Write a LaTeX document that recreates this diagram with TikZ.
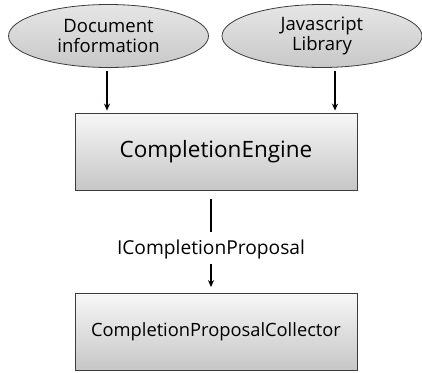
\documentclass[tikz,border=0pt]{standalone}
\usepackage{fontspec}
\setmainfont{Open Sans}
\usetikzlibrary{shapes.geometric, arrows.meta}

\definecolor{edgegray}{HTML}{3C3C3C}
\definecolor{boxtop}{HTML}{F7F7F7}
\definecolor{boxbottom}{HTML}{C6C6C6}
\definecolor{ovaltop}{HTML}{E6E6E6}
\definecolor{ovalbottom}{HTML}{C8C8C8}

\tikzset{
  source/.style={ellipse, draw=edgegray, line width=0.8pt,
    top color=ovaltop, bottom color=ovalbottom,
    minimum width=200pt, minimum height=63pt, inner sep=0pt,
    align=center, font=\fontsize{18.5}{20}\selectfont},
  component/.style={rectangle, draw=edgegray, line width=0.8pt,
    top color=boxtop, bottom color=boxbottom,
    minimum width=282pt, minimum height=77pt, inner sep=0pt,
    font=\fontsize{22.5}{24}\selectfont},
  flow/.style={line width=1.5pt, -{Stealth[length=7pt,width=6pt]}}
}

\begin{document}
\begin{tikzpicture}[x=1pt, y=-1pt]
  \useasboundingbox (0,0) rectangle (422,372);

  % Inputs
  \node[source] (docinfo) at (108.5,36) {Document\\information};
  \node[source] (jslib) at (322,36) {Javascript\\Library};

  % Engine and collector
  \node[component] (engine) at (216,151.5) {CompletionEngine};
  \node[component, font=\fontsize{18.3}{20}\selectfont] (collector) at (216,332) {CompletionProposalCollector};

  % Proposal label between them
  \node[font=\fontsize{19.2}{22}\selectfont, inner sep=2pt] (proposal) at (211,250) {ICompletionProposal};

  % Arrows into the engine
  \coordinate (docout) at (107,71);
  \coordinate (jsout) at (335,71);
  \draw[flow, shorten >=2pt] (docout) -- (docout |- engine.north);
  \draw[flow, shorten >=2pt] (jsout) -- (jsout |- engine.north);

  % Engine to collector
  \draw[line width=1.5pt, shorten <=9pt, shorten >=6pt] (engine.south -| proposal) -- (proposal);
  \draw[flow, shorten <=2pt, shorten >=6pt] (proposal) -- (proposal |- collector.north);
\end{tikzpicture}
\end{document}
